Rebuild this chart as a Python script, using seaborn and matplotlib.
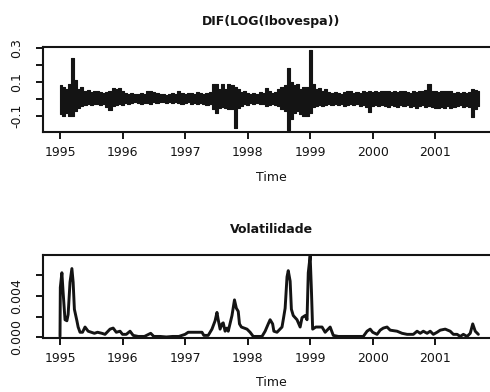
import numpy as np
import pandas as pd
import matplotlib
matplotlib.use("Agg")
import matplotlib.pyplot as plt
import seaborn as sns

# ---------------- data ----------------
# DIF(LOG(Ibovespa)): upper / lower envelope of daily log-returns, every 0.05 year from 1995.00
ret_start = 1995.0
ret_step = 0.05
ret_hi = [0.08, 0.07, 0.06, 0.09, 0.24, 0.11, 0.06, 0.07, 0.05, 0.055,
          0.04, 0.05, 0.045, 0.04, 0.035, 0.04, 0.05, 0.065, 0.06, 0.065,
          0.05, 0.035, 0.03, 0.035, 0.03, 0.03, 0.035, 0.03, 0.045, 0.05,
          0.04, 0.035, 0.03, 0.03, 0.025, 0.03, 0.035, 0.03, 0.045, 0.035,
          0.03, 0.035, 0.035, 0.03, 0.04, 0.035, 0.03, 0.035, 0.04, 0.09,
          0.09, 0.06, 0.09, 0.06, 0.09, 0.085, 0.07, 0.06, 0.04, 0.045,
          0.035, 0.03, 0.035, 0.03, 0.04, 0.035, 0.065, 0.05, 0.035, 0.04,
          0.06, 0.07, 0.08, 0.18, 0.10, 0.08, 0.09, 0.06, 0.07, 0.07,
          0.29, 0.09, 0.06, 0.065, 0.05, 0.06, 0.04, 0.035, 0.04, 0.035,
          0.03, 0.04, 0.05, 0.045, 0.035, 0.04, 0.035, 0.045, 0.04, 0.05,
          0.04, 0.045, 0.04, 0.05, 0.05, 0.045, 0.04, 0.045, 0.04, 0.05,
          0.045, 0.04, 0.035, 0.045, 0.04, 0.05, 0.045, 0.055, 0.088, 0.05,
          0.045, 0.04, 0.05, 0.045, 0.05, 0.045, 0.035, 0.04, 0.035, 0.04,
          0.035, 0.04, 0.06, 0.055, 0.045]
ret_lo = [-0.09, -0.10, -0.08, -0.10, -0.10, -0.07, -0.05, -0.04, -0.035, -0.03,
          -0.035, -0.03, -0.03, -0.035, -0.03, -0.045, -0.065, -0.04, -0.035, -0.03,
          -0.035, -0.025, -0.03, -0.025, -0.02, -0.025, -0.03, -0.025, -0.025, -0.03,
          -0.02, -0.025, -0.02, -0.02, -0.025, -0.02, -0.025, -0.02, -0.025, -0.03,
          -0.025, -0.02, -0.03, -0.025, -0.03, -0.025, -0.03, -0.035, -0.03, -0.06,
          -0.08, -0.05, -0.045, -0.05, -0.06, -0.06, -0.17, -0.05, -0.04, -0.03,
          -0.035, -0.025, -0.03, -0.025, -0.03, -0.03, -0.04, -0.035, -0.03, -0.035,
          -0.04, -0.06, -0.07, -0.18, -0.12, -0.08, -0.07, -0.09, -0.10, -0.10,
          -0.08, -0.045, -0.04, -0.035, -0.04, -0.035, -0.03, -0.035, -0.03, -0.035,
          -0.03, -0.04, -0.035, -0.03, -0.035, -0.03, -0.04, -0.035, -0.045, -0.075,
          -0.04, -0.035, -0.04, -0.035, -0.04, -0.045, -0.035, -0.04, -0.045, -0.035,
          -0.04, -0.035, -0.045, -0.04, -0.05, -0.04, -0.035, -0.045, -0.04, -0.045,
          -0.05, -0.055, -0.045, -0.055, -0.04, -0.05, -0.045, -0.04, -0.035, -0.045,
          -0.04, -0.045, -0.105, -0.06, -0.04]

# Volatilidade
vol_time = [1995.00, 1995.005, 1995.03, 1995.05, 1995.08, 1995.11, 1995.13, 1995.16, 1995.19, 1995.21,
            1995.23, 1995.27, 1995.29, 1995.32, 1995.36, 1995.40, 1995.45, 1995.50, 1995.55, 1995.60,
            1995.67, 1995.72, 1995.80, 1995.85, 1995.90, 1995.96, 1996.00, 1996.06, 1996.12, 1996.17,
            1996.25, 1996.35, 1996.45, 1996.50, 1996.60, 1996.70, 1996.80, 1996.90, 1997.00, 1997.05,
            1997.27, 1997.30, 1997.37, 1997.43, 1997.48, 1997.51, 1997.53, 1997.56, 1997.59, 1997.61,
            1997.64, 1997.67, 1997.69, 1997.75, 1997.79, 1997.82, 1997.85, 1997.87, 1997.90, 1997.99,
            1998.04, 1998.09, 1998.23, 1998.28, 1998.33, 1998.36, 1998.40, 1998.42, 1998.47, 1998.55,
            1998.57, 1998.60, 1998.63, 1998.65, 1998.68, 1998.70, 1998.73, 1998.79, 1998.84, 1998.87,
            1998.92, 1998.95, 1998.97, 1999.00, 1999.02, 1999.04, 1999.09, 1999.19, 1999.24, 1999.32,
            1999.37, 1999.45, 1999.55, 1999.65, 1999.75, 1999.85, 1999.91, 1999.96, 2000.00, 2000.07,
            2000.12, 2000.17, 2000.23, 2000.28, 2000.39, 2000.47, 2000.55, 2000.65, 2000.71, 2000.76,
            2000.81, 2000.87, 2000.92, 2000.97, 2001.03, 2001.08, 2001.16, 2001.24, 2001.29, 2001.35,
            2001.40, 2001.45, 2001.51, 2001.56, 2001.60, 2001.64, 2001.69]
vol_value = [0.0001, 0.0048, 0.0062, 0.0043, 0.0017, 0.0016, 0.0022, 0.0053, 0.0066, 0.0053,
             0.0027, 0.0016, 0.0010, 0.0005, 0.0005, 0.0010, 0.0006, 0.0005, 0.0004, 0.0005,
             0.0004, 0.0003, 0.0008, 0.0009, 0.0005, 0.0006, 0.0003, 0.0003, 0.0006, 0.0002,
             0.0001, 0.0001, 0.0004, 0.0001, 0.0001, 0.00005, 0.0001, 0.0001, 0.0003, 0.0005,
             0.0005, 0.0002, 0.0002, 0.0008, 0.0016, 0.0024, 0.0017, 0.0008, 0.0013, 0.0014,
             0.0006, 0.0009, 0.0006, 0.0021, 0.0036, 0.0028, 0.0025, 0.0013, 0.0010, 0.0008,
             0.0005, 0.0001, 0.0001, 0.0006, 0.0013, 0.0017, 0.0013, 0.0006, 0.0005, 0.0010,
             0.0017, 0.0028, 0.0058, 0.0064, 0.0054, 0.0027, 0.0021, 0.0017, 0.0010, 0.0019,
             0.0021, 0.0017, 0.0062, 0.0078, 0.0046, 0.0008, 0.0010, 0.0010, 0.0005, 0.0010,
             0.0002, 0.0001, 0.0001, 0.0001, 0.0001, 0.0001, 0.0006, 0.0008, 0.0005, 0.0003,
             0.0007, 0.0009, 0.0010, 0.0007, 0.0006, 0.0004, 0.0003, 0.0003, 0.0006, 0.0004,
             0.0006, 0.0004, 0.0006, 0.0003, 0.0005, 0.0007, 0.0008, 0.0006, 0.0003, 0.0003,
             0.0001, 0.0003, 0.0001, 0.0004, 0.0013, 0.0006, 0.0003]

year_ticks = [1995, 1996, 1997, 1998, 1999, 2000, 2001]
ret_ticks = [-0.1, 0.0, 0.1, 0.2, 0.3]
ret_ticklabels = ["-0.1", "", "0.1", "", "0.3"]
vol_ticks = [0.000, 0.002, 0.004, 0.006]
vol_ticklabels = ["0.000", "", "0.004", ""]

title_top = "DIF(LOG(Ibovespa))"
title_bottom = "Volatilidade"
xlabel = "Time"

# ---------------- style ----------------
sns.set_theme(style="ticks")
plt.rcParams["font.family"] = ["DejaVu Sans"]
ink = "#141414"
plt.rcParams.update({
    "axes.edgecolor": ink,
    "axes.linewidth": 1.5,
    "xtick.color": ink,
    "ytick.color": ink,
    "xtick.major.size": 5,
    "ytick.major.size": 5,
    "xtick.major.width": 1.4,
    "ytick.major.width": 1.4,
    "text.color": ink,
    "axes.labelcolor": ink,
})

W, H = 490, 392
fig = plt.figure(figsize=(W / 100, H / 100), dpi=100)
fig.patch.set_facecolor("white")

ax1 = fig.add_axes([43 / W, (H - 132) / H, 456 / W, 85 / H])
ax2 = fig.add_axes([43 / W, (H - 338) / H, 456 / W, 83 / H])

# --- top panel: band between envelopes via seaborn min-max interval ---
ret_time = np.round(ret_start + ret_step * np.arange(len(ret_hi)), 3)
df_ret = pd.DataFrame({
    "t": np.concatenate([ret_time, ret_time]),
    "r": np.concatenate([ret_hi, ret_lo]),
})
sns.lineplot(data=df_ret, x="t", y="r", estimator="mean", errorbar=("pi", 100),
             color=ink, linewidth=0, ax=ax1,
             err_kws=dict(alpha=1, step="mid", linewidth=0.8, edgecolor=ink, facecolor=ink))

# --- bottom panel ---
df_vol = pd.DataFrame({"t": vol_time, "v": vol_value})
sns.lineplot(data=df_vol, x="t", y="v", estimator=None, color=ink, linewidth=2.1, ax=ax2)

for ax, ticks, labels, ylim, title, lpad in [
    (ax1, ret_ticks, ret_ticklabels, (-0.194, 0.306), title_top, 9),
    (ax2, vol_ticks, vol_ticklabels, (-0.00005, 0.0079), title_bottom, 8),
]:
    ax.set_xlim(1994.728, 2002.02)
    ax.set_ylim(*ylim)
    ax.set_xticks(year_ticks)
    ax.set_xticklabels([str(y) for y in year_ticks], fontsize=9)
    ax.set_yticks(ticks)
    ax.set_yticklabels(labels, fontsize=9, rotation=90, va="center")
    ax.tick_params(axis="x", pad=5)
    ax.tick_params(axis="y", pad=9)
    for s in ax.spines.values():
        s.set_visible(True)
    ax.set_title(title, fontsize=9, fontweight="bold", pad=16)
    ax.set_xlabel(xlabel, fontsize=9, labelpad=lpad)
    ax.set_ylabel("")
    ax.set_facecolor("white")
    ax.grid(False)
    leg = ax.get_legend()
    if leg is not None:
        leg.remove()

fig.savefig("out.png", dpi=100)
